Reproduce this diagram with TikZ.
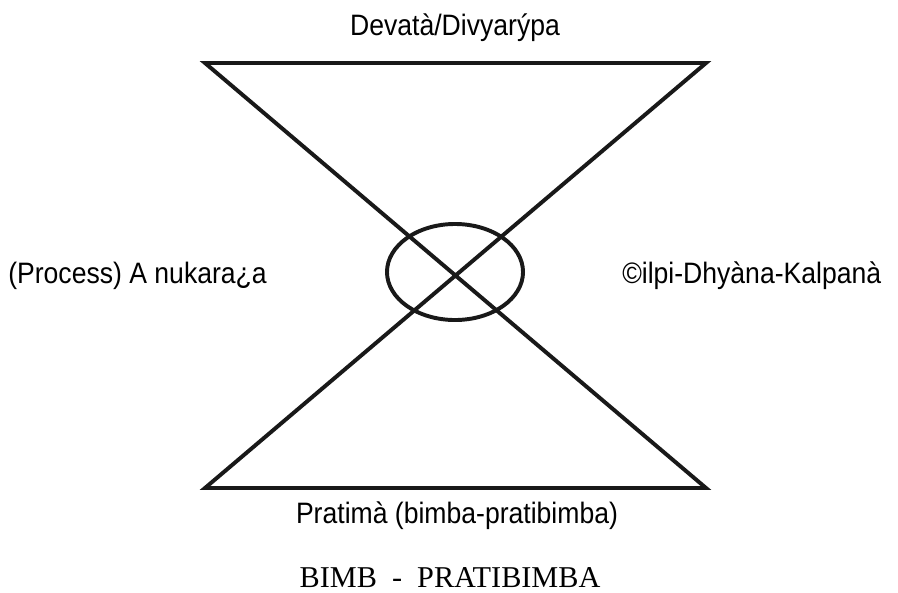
\documentclass[tikz,border=0pt]{standalone}
\usepackage{fontspec}
\setmainfont{Liberation Serif}
\newfontfamily\lblfont[FakeStretch=0.9]{Liberation Sans}
\usetikzlibrary{shapes.geometric}

\begin{document}
\begin{tikzpicture}[
    x=0.025cm, y=-0.025cm,
    edge/.style={line width=2.8pt, black!90},
    lbl/.style={font=\lblfont\fontsize{21}{25}\selectfont, inner sep=0pt, anchor=base},
    title/.style={font=\fontsize{21.5}{25}\selectfont, inner sep=0pt, anchor=base},
    eye/.style={ellipse, draw, line width=2.8pt, black!90,
                minimum width=3.4cm, minimum height=2.4cm, inner sep=0pt},
  ]
    \useasboundingbox (0,0) rectangle (898,592);

    % corners
    \coordinate (tl) at (205,63);
    \coordinate (tr) at (706,63);
    \coordinate (bl) at (205,488);
    \coordinate (br) at (706,488);

    % hourglass
    \draw[edge] (tl) -- (tr) -- (bl) -- (br) -- cycle;
    \node[eye] (eye) at (455,272) {};

    % labels
    \node[lbl] (top) at (455,35) {Devatà/Divyarýpa};
    \node[lbl, anchor=base west] (left) at (8,283) {(Process) A nukara¿a};
    \node[lbl, anchor=base west] (right) at (622,283) {©ilpi-Dhyàna-Kalpanà};
    \node[lbl] (bottom) at (457,523) {Pratimà (bimba-pratibimba)};
    \node[title] (caption) at (450,587) {BIMB\ \ -\ \ PRATIBIMBA};
  \end{tikzpicture}
\end{document}
